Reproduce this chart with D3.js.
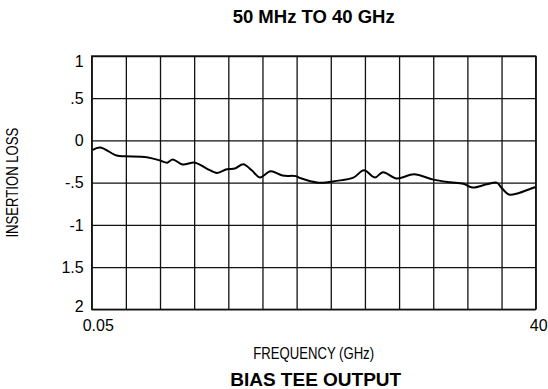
<!DOCTYPE html>
<html>
<head>
<meta charset="utf-8">
<script src="https://cdn.jsdelivr.net/npm/d3@7"></script>
<style>
  html, body { margin: 0; padding: 0; background: #fff; }
  svg { display: block; }
  text { fill: #000; }
</style>
</head>
<body>
<svg id="chart" width="548" height="389"></svg>
<script>
// ---- data ----
const freqGHz = [0.14, 0.80, 2.30, 3.05, 5.00, 6.20, 6.85, 7.34, 8.22, 9.34, 10.40, 11.32, 12.22, 12.94, 13.69, 14.45, 15.19, 16.14, 17.22, 18.43, 18.79, 20.44, 22.09, 23.59, 24.55, 25.54, 26.26, 27.49, 29.05, 30.79, 32.29, 33.49, 34.31, 35.59, 36.49, 36.94, 37.60, 38.43, 39.49, 40.0];
const lossDb = [-0.113, -0.083, -0.179, -0.188, -0.198, -0.238, -0.263, -0.225, -0.285, -0.263, -0.333, -0.385, -0.341, -0.333, -0.281, -0.354, -0.438, -0.366, -0.416, -0.423, -0.445, -0.500, -0.479, -0.441, -0.354, -0.438, -0.376, -0.451, -0.400, -0.464, -0.495, -0.513, -0.558, -0.520, -0.500, -0.563, -0.641, -0.625, -0.575, -0.551];
const yTickValues = [1, 0.5, 0, -0.5, -1, -1.5, -2];
const yTickLabels = ["1", ".5", "0", "-.5", "-1", "1.5", "2"];
const xTickLabels = ["0.05", "40"];
const xDomain = [0.05, 40];
const xDivisions = 13;
const titleText = "50 MHz TO 40 GHz";
const xAxisTitle = "FREQUENCY (GHz)";
const yAxisTitle = "INSERTION LOSS";
const footerText = "BIAS TEE OUTPUT";

(function () {
// ---- layout ----
const mLeft = 91.7, mRight = 535.7, mTop = 56, mBottom = 309.3;
const svg = d3.select("#chart");

const x = d3.scaleLinear().domain(xDomain).range([mLeft, mRight]);
const y = d3.scaleLinear().domain([-2, 1]).range([mBottom, mTop]);

const gridColor = "#111";
const gridW = 1.3;
const font = "Liberation Sans, Arial, Helvetica, sans-serif";

// vertical grid lines
const xGrid = d3.range(xDivisions + 1).map(i => xDomain[0] + i * (xDomain[1] - xDomain[0]) / xDivisions);
svg.append("g")
  .attr("transform", `translate(0,${mBottom})`)
  .call(d3.axisBottom(x).tickValues(xGrid).tickSize(-(mBottom - mTop)).tickFormat(""))
  .call(g => g.select(".domain").remove())
  .call(g => g.selectAll("line").attr("stroke", gridColor).attr("stroke-width", gridW));

// horizontal grid lines
svg.append("g")
  .attr("transform", `translate(${mLeft},0)`)
  .call(d3.axisLeft(y).tickValues(yTickValues).tickSize(-(mRight - mLeft)).tickFormat(""))
  .call(g => g.select(".domain").remove())
  .call(g => g.selectAll("line").attr("stroke", gridColor).attr("stroke-width", gridW));

// frame
svg.append("rect")
  .attr("x", mLeft).attr("y", mTop)
  .attr("width", mRight - mLeft).attr("height", mBottom - mTop)
  .attr("fill", "none").attr("stroke", gridColor).attr("stroke-width", gridW);

// y tick labels
svg.append("g").selectAll("text")
  .data(yTickValues)
  .join("text")
  .attr("x", mLeft - 8)
  .attr("y", (d, i) => {
    let yy = y(d);
    if (i === 0) yy += 5;
    if (i === yTickValues.length - 1) yy -= 3;
    return yy;
  })
  .attr("dy", "0.36em")
  .attr("text-anchor", "end")
  .attr("font-family", font)
  .attr("font-size", 16)
  .text((d, i) => yTickLabels[i]);

// x tick labels
svg.append("text")
  .attr("x", x(xDomain[0]) - 9).attr("y", 331)
  .attr("text-anchor", "start")
  .attr("font-family", font)
  .attr("font-size", 16)
  .text(xTickLabels[0]);
svg.append("text")
  .attr("x", x(xDomain[1]) + 3).attr("y", 331)
  .attr("text-anchor", "middle")
  .attr("font-family", font)
  .attr("font-size", 16)
  .text(xTickLabels[1]);

// curve
const line = d3.line()
  .x((d, i) => x(freqGHz[i]))
  .y(d => y(d))
  .curve(d3.curveCatmullRom.alpha(0.5));
svg.append("path")
  .attr("d", line(lossDb))
  .attr("fill", "none")
  .attr("stroke", "#000")
  .attr("stroke-width", 2)
  .attr("stroke-linejoin", "round");

// titles
svg.append("text")
  .attr("x", (mLeft + mRight) / 2).attr("y", 23)
  .attr("text-anchor", "middle")
  .attr("font-family", font)
  .attr("font-weight", "bold")
  .attr("font-size", 18.5)
  .text(titleText);

// narrow (condensed) axis titles
svg.append("g")
  .attr("transform", `translate(${(mLeft + mRight) / 2},359) scale(0.82,1)`)
  .append("text")
  .attr("text-anchor", "middle")
  .attr("font-family", font)
  .attr("font-size", 16)
  .text(xAxisTitle);

svg.append("g")
  .attr("transform", `translate(18,${(mTop + mBottom) / 2}) rotate(-90) scale(0.82,1)`)
  .append("text")
  .attr("text-anchor", "middle")
  .attr("font-family", font)
  .attr("font-size", 16)
  .text(yAxisTitle);

svg.append("text")
  .attr("x", (mLeft + mRight) / 2 + 2).attr("y", 386)
  .attr("text-anchor", "middle")
  .attr("font-family", font)
  .attr("font-weight", "bold")
  .attr("font-size", 19)
  .text(footerText);
})();
</script>
</body>
</html>
